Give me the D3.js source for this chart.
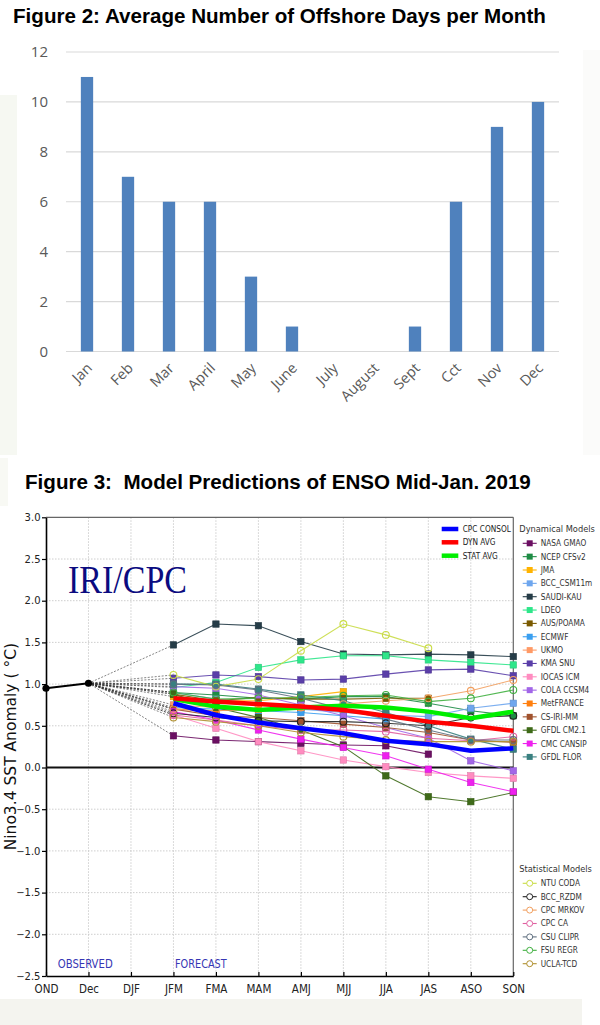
<!DOCTYPE html>
<html><head><meta charset="utf-8">
<script src="https://cdn.jsdelivr.net/npm/d3@7"></script>
<style>
html,body{margin:0;padding:0;background:#fff;}
svg{display:block;}
.cond{font-family:'DejaVu Sans Condensed','DejaVu Sans',sans-serif;font-stretch:condensed;}
</style>
</head><body>
<script>
// ---------- Figure 2 data ----------
const months = ["Jan","Feb","Mar","April","May","June","July","August","Sept","Cct","Nov","Dec"];
const offshoreDays = [11,7,6,6,3,1,0,0,1,6,9,10];
const dayTicks = [0,2,4,6,8,10,12];

// ---------- Figure 3 data ----------
const seasons = ["OND","Dec","DJF","JFM","FMA","MAM","AMJ","MJJ","JJA","JAS","ASO","SON"];
const ensoTicks = [3.0,2.5,2.0,1.5,1.0,0.5,0.0,-0.5,-1.0,-1.5,-2.0,-2.5];
const observedSeasons = ["OND","Dec"];
const observed = [0.95, 1.01];
const forecastSeasons = ["JFM","FMA","MAM","AMJ","MJJ","JJA","JAS","ASO","SON"];

const dynamicalNames = ["NASA GMAO","NCEP CFSv2","JMA","BCC_CSM11m","SAUDI-KAU","LDEO","AUS/POAMA","ECMWF","UKMO","KMA SNU","IOCAS ICM","COLA CCSM4","MetFRANCE","CS-IRI-MM","GFDL CM2.1","CMC CANSIP","GFDL FLOR"];
const nasaGmao  = [0.38,0.33,0.31,0.29,0.27,0.26,0.16];
const ncepCfsv2 = [0.90,0.87,0.83,0.82,0.85,0.85,0.77,0.68,0.62];
const jma       = [0.85,0.80,0.80,0.85,0.91];
const bccCsm11m = [0.90,0.82,0.76,0.70,0.66,0.63,0.61,0.71,0.77];
const saudiKau  = [1.47,1.72,1.70,1.51,1.36,1.35,1.36,1.35,1.33];
const ldeo      = [0.96,1.02,1.20,1.29,1.34,1.34,1.29,1.26,1.23];
const ausPoama  = [0.88,0.80,0.84,0.82,0.82,0.83,0.83];
const ecmwf     = [0.72,0.70,0.68,0.66,0.62,0.58];
const ukmo      = [0.75,0.72,0.70,0.72];
const kmaSnu    = [1.07,1.11,1.09,1.05,1.06,1.12,1.17,1.18,1.10];
const iocasIcm  = [0.63,0.47,0.31,0.20,0.09,0.01,-0.06,-0.10,-0.13];
const colaCcsm4 = [0.97,0.95,0.87,0.75,0.62,0.48,0.35,0.08,-0.04];
const metFrance = [0.70,0.68,0.70,0.72,0.70];
const csIriMm   = [0.70,0.62,0.60,0.56,0.52,0.48,0.42,0.33,0.30];
const gfdlCm21  = [0.88,0.72,0.60,0.45,0.25,-0.10,-0.35,-0.41,-0.30];
const cmcCansip = [0.67,0.57,0.45,0.34,0.24,0.14,-0.02,-0.18,-0.29];
const gfdlFlor  = [1.00,1.00,0.94,0.87,0.80,0.66,0.50,0.34,0.22];

const statisticalNames = ["NTU CODA","BCC_RZDM","CPC MRKOV","CPC CA","CSU CLIPR","FSU REGR","UCLA-TCD"];
const ntuCoda  = [1.11,0.97,1.06,1.40,1.72,1.59,1.43];
const bccRzdm  = [0.65,0.60,0.56,0.55,0.55,0.53,0.50,0.60,0.62];
const cpcMrkov = [0.70,0.68,0.70,0.72,0.76,0.80,0.83,0.92,1.05];
const cpcCa    = [0.63,0.57,0.50,0.45,0.45,0.43,0.35,0.32,0.37];
const csuClipr = [1.00,0.99,0.93,0.83,0.70,0.58,0.45,0.33,0.33];
const fsuRegr  = [0.90,0.82,0.83,0.84,0.86,0.87,0.79,0.83,0.93];
const uclaTcd  = [0.60,0.55,0.50,0.42,0.37,0.33,0.31,0.31,0.31];

const averageNames = ["CPC CONSOL","DYN AVG","STAT AVG"];
const cpcConsol = [0.77,0.63,0.54,0.47,0.41,0.32,0.28,0.20,0.23];
const dynAvg    = [0.83,0.79,0.76,0.73,0.69,0.62,0.55,0.50,0.44];
const statAvg   = [0.82,0.73,0.69,0.72,0.74,0.72,0.67,0.59,0.67];

// ---------- styles (kept apart from data) ----------
const dynColors = ["#6b0f62","#1e8c45","#ffb300","#6ea6ee","#253c47","#2ee68a","#7a5a00","#3a9ff0","#ff9a66","#5a3ea8","#ff8cc0","#a266e8","#ff7f0e","#a0522d","#3e6a18","#ee20ee","#3a8080"];
const statColors = ["#c9dc45","#222222","#f2a060","#e060a0","#607080","#40b040","#b09030"];
const avgColors = ["#0000ff","#ff0000","#00ee00"];

const dynSeries = [nasaGmao,ncepCfsv2,jma,bccCsm11m,saudiKau,ldeo,ausPoama,ecmwf,ukmo,kmaSnu,iocasIcm,colaCcsm4,metFrance,csIriMm,gfdlCm21,cmcCansip,gfdlFlor]
  .map((v,i)=>({name:dynamicalNames[i], values:v, color:dynColors[i]}));
const statSeries = [ntuCoda,bccRzdm,cpcMrkov,cpcCa,csuClipr,fsuRegr,uclaTcd]
  .map((v,i)=>({name:statisticalNames[i], values:v, color:statColors[i]}));
const avgSeries = [cpcConsol,dynAvg,statAvg].map((v,i)=>({name:averageNames[i], values:v, color:avgColors[i]}));

const svg = d3.select("body").append("svg").attr("width",600).attr("height",1025);

// faint panel backgrounds of the scanned page
svg.append("rect").attr("x",0).attr("y",95).attr("width",17).attr("height",360).attr("fill","#f6f8f2");
svg.append("rect").attr("x",583).attr("y",50).attr("width",17).attr("height",405).attr("fill","#fbfbfa");
svg.append("rect").attr("x",0).attr("y",458).attr("width",8).attr("height",48).attr("fill","#f8f9f4");
svg.append("rect").attr("x",0).attr("y",999).attr("width",582).attr("height",26).attr("fill","#f4f4ef");

// ================= FIGURE 2 =================
svg.append("text").attr("x",13).attr("y",23)
  .attr("font-family","'Liberation Sans',Arial,sans-serif").attr("font-weight","bold").attr("font-size",20.6)
  .attr("fill","#000").text("Figure 2: Average Number of Offshore Days per Month");

const x2 = d3.scaleBand().domain(months).range([66.5,558.5]).paddingInner(0.7).paddingOuter(0.35);
const y2 = d3.scaleLinear().domain([0,12]).range([351.5,52]);
const g2 = svg.append("g");

g2.selectAll("line.grid").data(dayTicks).join("line")
  .attr("x1",66).attr("x2",559).attr("y1",d=>y2(d)).attr("y2",d=>y2(d))
  .attr("stroke","#d9d9d9").attr("stroke-width",1.2);
g2.selectAll("text.ylab").data(dayTicks).join("text")
  .attr("x",48).attr("y",d=>y2(d)).attr("dy","0.36em").attr("text-anchor","end")
  .attr("font-family","'Open Sans',sans-serif").attr("font-size",15).attr("fill","#595959").text(d=>d);
g2.selectAll("rect.bar").data(months).join("rect")
  .attr("x",d=>x2(d)).attr("width",x2.bandwidth())
  .attr("y",(d,i)=>y2(offshoreDays[i])).attr("height",(d,i)=>y2(0)-y2(offshoreDays[i]))
  .attr("fill","#4f81bd");
g2.selectAll("text.xlab").data(months).join("text")
  .attr("transform",d=>`translate(${x2(d)+x2.bandwidth()/2+6},369) rotate(-45)`)
  .attr("text-anchor","end")
  .attr("font-family","'Open Sans',sans-serif").attr("font-size",14.5).attr("fill","#595959").text(d=>d);

// ================= FIGURE 3 =================
svg.append("text").attr("x",25).attr("y",489).attr("xml:space","preserve").style("white-space","pre")
  .attr("font-family","'Liberation Sans',Arial,sans-serif").attr("font-weight","bold").attr("font-size",20.6)
  .attr("fill","#000").text("Figure 3:  Model Predictions of ENSO Mid-Jan. 2019");

const L=46, R=513.3, T=517.3, B=976;
const xs = d3.scalePoint().domain(seasons).range([L,R]);
const ys = d3.scaleLinear().domain([-2.5,3]).range([B,T]);
const g3 = svg.append("g");

// grid
g3.selectAll("line.vg").data(seasons.slice(1,-1)).join("line")
  .attr("x1",d=>xs(d)).attr("x2",d=>xs(d)).attr("y1",T).attr("y2",B)
  .attr("stroke","#c8c8c8").attr("stroke-width",0.9).attr("stroke-dasharray","1.5,1.5");
g3.selectAll("line.hg").data(ensoTicks.filter(d=>d>-2.5&&d<3)).join("line")
  .attr("x1",L).attr("x2",R).attr("y1",d=>ys(d)).attr("y2",d=>ys(d))
  .attr("stroke","#c8c8c8").attr("stroke-width",0.9).attr("stroke-dasharray","1.5,1.5");

// frame top/right
g3.append("line").attr("x1",L).attr("x2",R).attr("y1",T).attr("y2",T).attr("stroke","#666").attr("stroke-width",1.2);
g3.append("line").attr("x1",R).attr("x2",R).attr("y1",T).attr("y2",B).attr("stroke","#666").attr("stroke-width",1.2);

// axes
const ax = g3.append("g").attr("transform",`translate(${L},0)`)
  .call(d3.axisLeft(ys).tickValues(ensoTicks).tickFormat(d3.format(".1f")).tickSizeInner(4).tickSizeOuter(0).tickPadding(1.5));
ax.select(".domain").attr("stroke","#000").attr("stroke-width",1.6);
ax.selectAll(".tick line").attr("stroke","#000").attr("stroke-width",1.2);
ax.selectAll("text").attr("font-family","'DejaVu Sans',sans-serif").attr("font-size",10).attr("fill","#222");

const bx = g3.append("g").attr("transform",`translate(0,${B})`)
  .call(d3.axisBottom(xs).tickSizeInner(-4).tickSizeOuter(0).tickPadding(9));
bx.select(".domain").attr("stroke","#000").attr("stroke-width",1.6);
bx.selectAll(".tick line").attr("stroke","#000").attr("stroke-width",1.2);
bx.selectAll("text").attr("class","cond").attr("font-size",11.5).attr("fill","#222");

// y title
g3.append("text").attr("transform",`translate(15.5,${(T+B)/2}) rotate(-90)`).attr("text-anchor","middle")
  .attr("font-family","'DejaVu Sans',sans-serif").attr("font-size",15.5).attr("fill","#111")
  .attr("xml:space","preserve").style("white-space","pre").text("Nino3.4 SST Anomaly ( \u00B0C)");

// IRI/CPC label
g3.append("text").attr("x",68).attr("y",593).attr("font-family","'Liberation Serif','Times New Roman',serif")
  .attr("font-size",40).attr("fill","#0b0b80").attr("textLength",119).attr("lengthAdjust","spacingAndGlyphs").text("IRI/CPC");
g3.append("text").attr("x",57.7).attr("y",968).attr("class","cond").attr("font-size",11.5).attr("fill","#3636b4")
  .attr("textLength",55).attr("lengthAdjust","spacingAndGlyphs").text("OBSERVED");
g3.append("text").attr("x",175).attr("y",968).attr("class","cond").attr("font-size",11.5).attr("fill","#3636b4")
  .attr("textLength",51.7).attr("lengthAdjust","spacingAndGlyphs").text("FORECAST");

// zero line
g3.append("line").attr("x1",L).attr("x2",R).attr("y1",ys(0)).attr("y2",ys(0)).attr("stroke","#111").attr("stroke-width",2);

const allModels = dynSeries.concat(statSeries);
const startX = xs("Dec"), startY = ys(observed[1]);
// dashed connectors from last observation to first forecast
g3.selectAll("line.conn").data(allModels).join("line")
  .attr("x1",startX).attr("y1",startY).attr("x2",xs(forecastSeasons[0])).attr("y2",d=>ys(d.values[0]))
  .attr("stroke","#333").attr("stroke-width",0.6).attr("stroke-dasharray","2,1.5");

const line = d3.line().x((d,i)=>xs(forecastSeasons[i])).y(d=>ys(d));

// model lines
const mg = g3.append("g");
allModels.forEach((s,k)=>{
  mg.append("path").attr("d",line(s.values)).attr("fill","none").attr("stroke",s.color).attr("stroke-width",1.1).attr("opacity",0.9);
});
// markers
dynSeries.forEach(s=>{
  mg.selectAll(null).data(s.values).join("rect")
    .attr("x",(d,i)=>xs(forecastSeasons[i])-3.2).attr("y",d=>ys(d)-3.2)
    .attr("width",6.4).attr("height",6.4).attr("fill",s.color).attr("stroke",d3.color(s.color).darker(0.4)).attr("stroke-width",0.6);
});
statSeries.forEach(s=>{
  mg.selectAll(null).data(s.values).join("circle")
    .attr("cx",(d,i)=>xs(forecastSeasons[i])).attr("cy",d=>ys(d)).attr("r",3.4)
    .attr("fill","none").attr("stroke",s.color).attr("stroke-width",1.1);
});

// averages: draw stat, dyn, then consol on top
[avgSeries[2],avgSeries[1],avgSeries[0]].forEach(s=>{
  g3.append("path").attr("d",line(s.values)).attr("fill","none").attr("stroke",s.color).attr("stroke-width",4.5).attr("stroke-linejoin","round");
});

// observed
const obsLine = d3.line().x((d,i)=>xs(observedSeasons[i])).y(d=>ys(d));
g3.append("path").attr("d",obsLine(observed)).attr("fill","none").attr("stroke","#000").attr("stroke-width",2);
g3.selectAll("circle.obs").data(observed).join("circle")
  .attr("cx",(d,i)=>xs(observedSeasons[i])).attr("cy",d=>ys(d)).attr("r",3.6).attr("fill","#000");

// inside legend (averages)
const avgY = [529,542.3,555.7];
avgSeries.forEach((s,i)=>{
  g3.append("line").attr("x1",441.7).attr("x2",458.3).attr("y1",avgY[i]).attr("y2",avgY[i]).attr("stroke",s.color).attr("stroke-width",4.5);
  g3.append("text").attr("x",462.7).attr("y",avgY[i]).attr("dy","0.36em").attr("class","cond").attr("font-size",8.2).attr("fill","#222").text(s.name);
});

// right legend
const lg = svg.append("g");
lg.append("text").attr("x",519.3).attr("y",529).attr("dy","0.36em").attr("class","cond").attr("font-size",9.2).attr("fill","#333").text("Dynamical Models");
dynSeries.forEach((s,i)=>{
  const y = 543.3 + i*13.35;
  lg.append("line").attr("x1",522.7).attr("x2",536.7).attr("y1",y).attr("y2",y).attr("stroke",s.color).attr("stroke-width",1.1);
  lg.append("rect").attr("x",529.7-3).attr("y",y-3).attr("width",6).attr("height",6).attr("fill",s.color);
  lg.append("text").attr("x",540.7).attr("y",y).attr("dy","0.36em").attr("class","cond").attr("font-size",8.2).attr("fill","#333").text(s.name);
});
lg.append("text").attr("x",519.3).attr("y",869).attr("dy","0.36em").attr("class","cond").attr("font-size",9.2).attr("fill","#333").text("Statistical Models");
statSeries.forEach((s,i)=>{
  const y = 883.3 + i*13.4;
  lg.append("line").attr("x1",522.7).attr("x2",536.7).attr("y1",y).attr("y2",y).attr("stroke",s.color).attr("stroke-width",1.1);
  lg.append("circle").attr("cx",529.7).attr("cy",y).attr("r",3).attr("fill","#fff").attr("stroke",s.color).attr("stroke-width",1);
  lg.append("text").attr("x",540.7).attr("y",y).attr("dy","0.36em").attr("class","cond").attr("font-size",8.2).attr("fill","#333").text(s.name);
});
</script>
</body></html>
